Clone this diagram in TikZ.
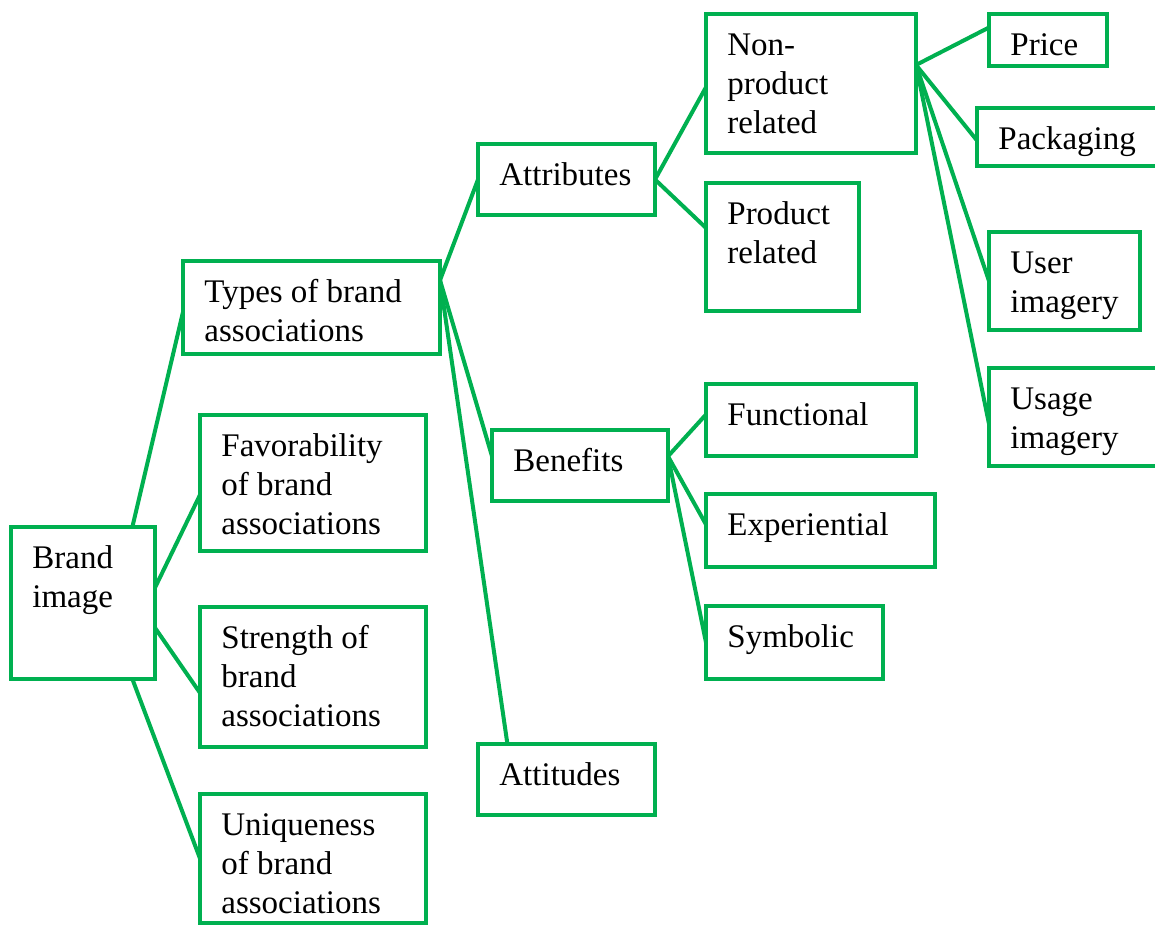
\documentclass[tikz,border=0pt]{standalone}
\usepackage{fontspec}
\setmainfont{Liberation Serif}
\definecolor{boxgreen}{RGB}{0,176,80}
\tikzset{
  box/.style={draw=boxgreen, line width=2pt, anchor=north west, inner sep=0pt, outer sep=0pt},
  sz/.style 2 args={minimum width=#1*0.5pt, minimum height=#2*0.5pt},
  lbl/.style={anchor=north west, align=left, inner sep=0pt, xshift=10.5pt, yshift=-7pt,
    font=\fontsize{16.5}{19.5}\selectfont},
  link/.style={draw=boxgreen, line width=2pt},
}
\begin{document}
\begin{tikzpicture}[x=0.5pt, y=-0.5pt]
        \useasboundingbox (0,0) rectangle (1155,926);

        \node[box, sz={144}{152}, label={[lbl]north west:{\strut Brand\\image}}] (brand) at (11,527) {};
        \node[box, sz={257}{93}, label={[lbl]north west:{\strut Types of brand\\associations}}] (types) at (183,261) {};
        \node[box, sz={226}{136}, label={[lbl]north west:{\strut Favorability\\of brand\\associations}}] (fav) at (200,415) {};
        \node[box, sz={226}{140}, label={[lbl]north west:{\strut Strength of\\brand\\associations}}] (strength) at (200,607) {};
        \node[box, sz={226}{129}, label={[lbl]north west:{\strut Uniqueness\\of brand\\associations}}] (unique) at (200,794) {};

        \node[box, sz={177}{71}, label={[lbl]north west:{\strut Attributes}}] (attr) at (478,144) {};
        \node[box, sz={176}{71}, label={[lbl]north west:{\strut Benefits}}] (benef) at (492,430) {};
        \node[box, sz={177}{71}, label={[lbl]north west:{\strut Attitudes}}] (attit) at (478,744) {};

        \node[box, sz={210}{139}, label={[lbl]north west:{\strut Non-\\product\\related}}] (nonprod) at (706,14) {};
        \node[box, sz={153}{128}, label={[lbl]north west:{\strut Product\\related}}] (prod) at (706,183) {};
        \node[box, sz={210}{72}, label={[lbl]north west:{\strut Functional}}] (func) at (706,384) {};
        \node[box, sz={229}{73}, label={[lbl]north west:{\strut Experiential}}] (exper) at (706,494) {};
        \node[box, sz={177}{73}, label={[lbl]north west:{\strut Symbolic}}] (symb) at (706,606) {};

        \node[box, sz={118}{52}, label={[lbl]north west:{\strut Price}}] (price) at (989,14) {};
        \node[box, sz={200}{58}, label={[lbl]north west:{\strut Packaging}}] (pack) at (977,108) {};
        \node[box, sz={151}{98}, label={[lbl]north west:{\strut User\\imagery}}] (user) at (989,232) {};
        \node[box, sz={200}{98}, label={[lbl]north west:{\strut Usage\\imagery}}] (usage) at (989,368) {};

        % brand image
        \draw[link] (brand.57) -- (types.182);
        \draw[link] (brand.12) -- (fav.186);
        \draw[link] (brand.341) -- (strength.188);
        \draw[link] (brand.303) -- (unique.west);

        % types of associations
        \draw[link] (types.12) -- (attr.west);
        \draw[link] (types.12) -- (benef.174);
        \draw[link] (types.12) -- (attit.149);

        \draw[link] (attr.east) -- (nonprod.182);
        \draw[link] (attr.east) -- (prod.166);

        \draw[link] (benef.6) -- (func.177);
        \draw[link] (benef.6) -- (exper.177);
        \draw[link] (benef.6) -- (symb.west);

        \draw[link] (nonprod.10) -- (price.168);
        \draw[link] (nonprod.10) -- (pack.182);
        \draw[link] (nonprod.10) -- (user.west);
        \draw[link] (nonprod.10) -- (usage.184);
      \end{tikzpicture}
\end{document}
